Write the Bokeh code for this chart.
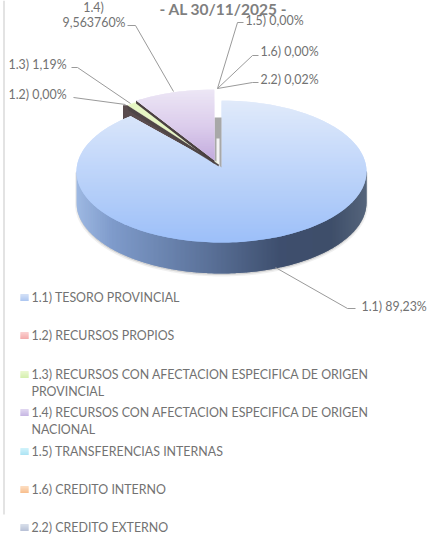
import math
from bokeh.plotting import figure
from bokeh.embed import file_html
from bokeh.resources import INLINE
from bokeh.core.properties import value

categories = ["1.1) TESORO PROVINCIAL", "1.2) RECURSOS PROPIOS",
              "1.3) RECURSOS CON AFECTACION ESPECIFICA DE ORIGEN\nPROVINCIAL",
              "1.4) RECURSOS CON AFECTACION ESPECIFICA DE ORIGEN\nNACIONAL",
              "1.5) TRANSFERENCIAS INTERNAS", "1.6) CREDITO INTERNO", "2.2) CREDITO EXTERNO"]
values = [89.23, 0.00, 1.19, 9.56376, 0.00, 0.00, 0.02]
swatch_top = ["#d3e0f7", "#fbd0d0", "#eaf8d0", "#e0d6f0", "#d0f2fa", "#fcdcc0", "#d8deea"]
swatch_bottom = ["#a9c4f0", "#f3a8a8", "#d2eeaa", "#c4b4e2", "#a8e2f4", "#f8bc88", "#b4bed4"]
legend_y = [297, 335, 374, 412, 451, 489, 527]
data_labels = ["1.1)  89,23%", "1.2)  0,00%", "1.3) 1,19%", "9,563760%", "1.5) 0,00%", "1.6) 0,00%", "2.2) 0,02%"]

W, H = 429, 534
FONT = "Lato"
TXT = "#727272"
CX, CY, AX, AY, RX, RY, DEPTH = 221.0, 171.0, 221.0, 166.0, 145.0, 71.0, 31.0

p = figure(width=W, height=H, x_range=(0, W), y_range=(H, 0), output_backend="svg",
           toolbar_location=None, min_border=0, outline_line_color=None,
           background_fill_color="white", border_fill_color="white")
p.axis.visible = False
p.grid.visible = False
p.styles = {"position": "absolute", "left": "0px", "top": "0px"}


def hexrgb(c):
    return [int(c[i:i + 2], 16) for i in (1, 3, 5)]


def ramp(stops, t):
    t = max(0.0, min(1.0, t))
    for (t0, c0), (t1, c1) in zip(stops, stops[1:]):
        if t <= t1:
            f = (t - t0) / (t1 - t0) if t1 > t0 else 0
            a, b = hexrgb(c0), hexrgb(c1)
            return "#%02x%02x%02x" % tuple(round(a[i] + (b[i] - a[i]) * f) for i in range(3))
    return stops[-1][1]


def clip(poly, axis, lo, hi):
    def half(pts, keep, inter):
        out = []
        for i in range(len(pts)):
            a, b = pts[i], pts[(i + 1) % len(pts)]
            ka, kb = keep(a), keep(b)
            if ka:
                out.append(a)
            if ka != kb:
                out.append(inter(a, b))
        return out

    def cross(v):
        def f(a, b):
            s = (v - a[axis]) / (b[axis] - a[axis])
            return (a[0] + (b[0] - a[0]) * s, a[1] + (b[1] - a[1]) * s)
        return f
    pts = half(poly, lambda q: q[axis] >= lo, cross(lo))
    if pts:
        pts = half(pts, lambda q: q[axis] <= hi, cross(hi))
    return pts


def graded(poly, axis, lo, hi, stops, step=1):
    # each band overlaps the next, so no hairline seam shows between them
    xs, ys, cs = [], [], []
    start = math.floor(min(q[axis] for q in poly))
    stop = math.ceil(max(q[axis] for q in poly))
    for v in range(start, stop, step):
        piece = clip(poly, axis, v, v + step + 1)
        if len(piece) >= 3:
            xs.append([q[0] for q in piece])
            ys.append([q[1] for q in piece])
            cs.append(ramp(stops, (v - lo) / (hi - lo)))
    p.patches(xs, ys, fill_color=cs, line_color=None)


def on_rim(a, dx=0.0, dy=0.0):
    t = math.radians(a)
    return (CX + dx + RX * math.sin(t), CY + dy - RY * math.cos(t))


def sector(a0, a1, dx=0.0, dy=0.0, ady=None):
    ady = dy if ady is None else ady
    n = max(2, int(abs(a1 - a0) / 1.5))
    return [(AX + dx, AY + ady)] + [on_rim(a0 + (a1 - a0) * i / n, dx, dy) for i in range(n + 1)]


# angles accumulate clockwise from twelve o'clock
total = sum(values)
angles = [0.0]
for v in values:
    angles.append(angles[-1] + v / total * 360)
blue_end = angles[1]
green_a, green_b = angles[2], angles[3]
purple_a, purple_b = angles[3] + 2, angles[4]

# left page rule
p.line([3.5, 3.5], [0, 514], line_color="#d4d4d4", line_width=1.3)

# soft shadow and rim of the main slice
rim = [(CX + RX, CY)] + [on_rim(90 + i * 2, 0, DEPTH) for i in range(91)] + [(CX - RX, CY)]
p.patch([q[0] for q in rim], [q[1] + 1.5 for q in rim], fill_color="#808080", fill_alpha=0.25, line_color="#808080",
        line_alpha=0.12, line_width=3)
graded(rim, 0, CX - RX, CX + RX,
       [(0, "#9db8e2"), (0.12, "#7f9bcb"), (0.45, "#5b7299"), (0.7, "#3e4f6e"), (0.88, "#3f4f6a"), (1, "#56657c")])

# cut wall of the main slice, seen at the left
b0 = on_rim(blue_end - 4)
b1 = on_rim(blue_end)
wall = [b0, b1, (AX - 6, AY - 3), (b1[0] + 3, b1[1] - 11), (b0[0], b1[1] - 11)]
p.patch([q[0] for q in wall], [q[1] for q in wall], fill_color="#5a4c4e", line_color=None)

# main slice
graded(sector(0, blue_end), 1, CY - RY, CY + RY, [(0, "#e0eafa"), (1, "#9cbff9")])

# centre wall
p.patch([AX - 7, AX, AX, AX - 7], [117, 117, AY + 1, AY - 5], fill_color="#a8a8a8", line_color=None)
p.patch([AX - 5, AX - 2, AX - 2, AX - 5], [138, 138, AY, AY - 3], fill_color="#f4f4f4", line_color=None)

# exploded slices
pp = sector(purple_a, purple_b, -7, -11, -6)
gp = sector(green_a, green_b, -3, -11, -3)
p.patch([gp[0][0], gp[1][0], gp[1][0] + 1, gp[0][0]], [gp[0][1] + 1, gp[1][1] + 1, gp[1][1] + 5, gp[0][1] + 2.5],
        fill_color="#4f4647", line_color="#4f4647", line_width=0.5)
p.patch([q[0] for q in gp], [q[1] for q in gp], fill_color="#e6f6c4", line_color="#f2fadc", line_width=0.5)
p.patch([pp[0][0], pp[1][0] - 0.5, pp[1][0] - 0.5, pp[0][0]], [pp[0][1], pp[1][1], pp[1][1] + 3, pp[0][1] + 3.5],
        fill_color="#4a4042", line_color=None)
graded(pp, 1, CY - 11 - RY, AY - 6, [(0, "#ece6f5"), (0.5, "#dccdec"), (1, "#c2aadd")])

# leader lines
leaders = [([127, 135, 173], [25, 25, 91]),
           ([237, 243], [22, 22]), ([217, 237], [88, 22]),
           ([217, 252, 258], [88, 55, 55]),
           ([217, 252, 258], [88, 82, 82]),
           ([71, 77, 130], [67, 67, 103]),
           ([73, 125], [97, 104]),
           ([275, 347, 355], [267, 308, 308])]
for lx, ly in leaders:
    p.line(lx, ly, line_color="#9a9a9a", line_width=1)

# data labels
label_x = [361, 8, 8, 62, 245, 260, 260]
label_y = [306, 94, 64, 22, 20, 51, 79]
p.text(label_x, label_y, text=data_labels, text_font=value(FONT), text_font_size="12.4px", text_color=TXT,
       text_baseline="middle", text_align="left")
p.text([93], [7], text=["1.4)"], text_font=value(FONT), text_font_size="12.4px", text_color=TXT,
       text_baseline="middle", text_align="center")
p.text([223], [8], text=["- AL 30/11/2025 -"], text_font=value(FONT), text_font_size="15.5px",
       text_font_style="bold", text_color="#7f7f7f", text_baseline="middle", text_align="center")

# legend
for cat, y0, c0, c1 in zip(categories, legend_y, swatch_top, swatch_bottom):
    graded([(20, y0 - 3.5), (28, y0 - 3.5), (28, y0 + 3.5), (20, y0 + 3.5)], 1, y0 - 3.5, y0 + 3.5,
           [(0, c0), (1, c1)])
    lines = cat.split("\n")
    p.text([31] * len(lines), [y0 + 17 * i for i in range(len(lines))], text=lines, text_font=value(FONT),
           text_font_size="12.4px", text_color=TXT, text_baseline="middle", text_align="left")

open("out.html", "w").write(file_html(p, INLINE))
